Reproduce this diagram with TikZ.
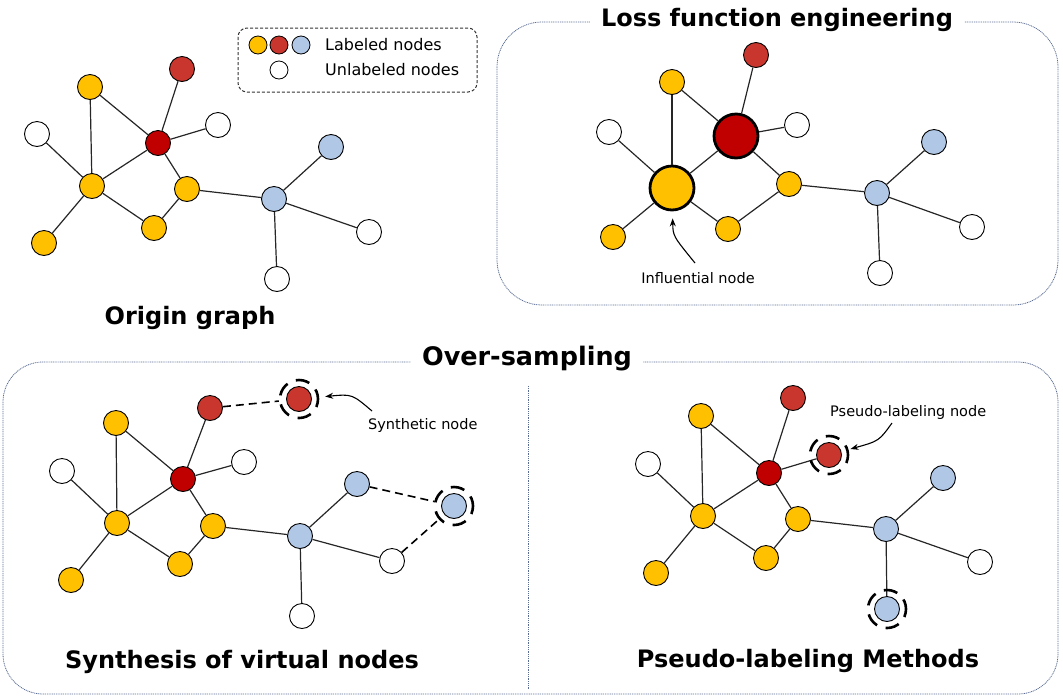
\documentclass[tikz,border=0pt]{standalone}
\usepackage{fontspec}
\setmainfont{DejaVu Sans}
\usetikzlibrary{arrows.meta}
\definecolor{ylw}{HTML}{FFC000}
\definecolor{rdo}{HTML}{C9362D}
\definecolor{rdc}{HTML}{C00000}
\definecolor{blu}{HTML}{B0C7E6}
\definecolor{framec}{HTML}{5B6C93}
\begin{document}
\begin{tikzpicture}[x=1pt,y=-1pt,
  gn/.style={circle,draw=black,line width=0.9pt,minimum size=25pt,inner sep=0pt},
  yn/.style={gn,fill=ylw},
  ro/.style={gn,fill=rdo},
  rc/.style={gn,fill=rdc},
  bn/.style={gn,fill=blu},
  wn/.style={gn,fill=white},
  big/.style={minimum size=44pt,line width=2.8pt},
  lg/.style={circle,draw=black,line width=0.8pt,minimum size=18pt,inner sep=0pt},
  ring/.style={circle,draw=black,line width=2.6pt,dash pattern=on 14pt off 9pt,dash phase=4pt,minimum size=38pt,inner sep=0pt},
  edge/.style={draw=black!85,line width=1.2pt},
  virt/.style={draw=black,line width=1.6pt,dash pattern=on 8pt off 5pt},
  pointer/.style={draw=black,line width=1.1pt,-{Stealth[length=8pt,width=6pt]}},
  frame/.style={draw=framec,line width=0.8pt,dash pattern=on 1pt off 0.8pt},
  title/.style={font=\fontsize{24}{28}\selectfont\bfseries,fill=white,inner xsep=11pt},
  caption/.style={font=\fontsize{24}{28}\selectfont\bfseries},
  note/.style={font=\fontsize{14.5}{16}\selectfont},
  legtext/.style={font=\fontsize{16}{18}\selectfont,anchor=west,inner sep=0pt}]
\useasboundingbox (0,0) rectangle (1063,697);

% ---------- frames ----------
\draw[frame,rounded corners=45pt] (497,22) rectangle (1058,305);
\draw[frame,rounded corners=40pt] (3,362) rectangle (1058,694);
\draw[frame] (528,386) -- (528,690);
\node[title] (tLoss) at (777,20) {Loss function engineering};
\node[title,font=\fontsize{25.5}{28}\selectfont\bfseries] (tOver) at (527,359) {Over-sampling};

% ---------- legend ----------
\draw[draw=black!80,line width=1pt,dash pattern=on 3pt off 2pt,rounded corners=9pt] (238,28) rectangle (477,92);
\node[lg,fill=ylw] (kY) at (258,45) {};
\node[lg,fill=rdo] (kR) at (279,45) {};
\node[lg,fill=blu] (kB) at (301,45) {};
\node[lg,fill=white] (kW) at (279,70) {};
\node[legtext] (kLab) at (325,45) {Labeled nodes};
\node[legtext] (kUnl) at (325,70) {Unlabeled nodes};

% ---------- original graph ----------
\node[yn] (oY1) at (90,87) {};
\node[ro] (oR1) at (182,69) {};
\node[wn] (oW1) at (37,134) {};
\node[rc] (oRc) at (158,143) {};
\node[wn] (oW2) at (218,125) {};
\node[bn] (oB1) at (331,147) {};
\node[yn] (oY2) at (92,186) {};
\node[yn] (oY3) at (187,189) {};
\node[bn] (oBh) at (274,199) {};
\node[yn] (oY4) at (154,228) {};
\node[yn] (oY5) at (44,243) {};
\node[wn] (oW3) at (369,232) {};
\node[wn] (oW4) at (277,279) {};
\foreach \a/\b in {Y1/Y2,Y1/Rc,R1/Rc,W1/Y2,Rc/W2,Rc/Y2,Rc/Y3,Y2/Y5,Y2/Y4,Y4/Y3,Y3/Bh,Bh/B1,Bh/W3,Bh/W4}
  \draw[edge] (o\a) -- (o\b);
\node[caption] (cOrig) at (190,318) {Origin graph};

% ---------- loss function engineering ----------
\node[ro] (lR1) at (756,55) {};
\node[yn] (lY1) at (672,82) {};
\node[wn] (lW1) at (609,132) {};
\node[rc,big] (lRc) at (736,136) {};
\node[wn] (lW2) at (797,125) {};
\node[bn] (lB1) at (934,142) {};
\node[yn,big] (lY2) at (672,188) {};
\node[yn] (lY3) at (789,184) {};
\node[bn] (lBh) at (877,193) {};
\node[yn] (lY5) at (613,237) {};
\node[yn] (lY4) at (728,229) {};
\node[wn] (lW3) at (972,227) {};
\node[wn] (lW4) at (880,273) {};
\foreach \a/\b in {Y1/Y2,Y1/Rc,R1/Rc,W1/Y2,Rc/W2,Rc/Y2,Rc/Y3,Y2/Y5,Y2/Y4,Y4/Y3,Y3/Bh,Bh/B1,Bh/W3,Bh/W4}
  \draw[edge] (l\a) -- (l\b);
\node[note] (lInf) at (698,278) {Influential node};
\coordinate (lInfA) at (695,263);
\draw[pointer,shorten >=7pt] (lInfA) .. controls (673,236) .. (lY2);

% ---------- synthesis of virtual nodes ----------
\node[ro] (sR1) at (210,408) {};
\node[ro] (sRv) at (299,399) {};
\node[ring] (sRvRing) at (299,399) {};
\node[yn] (sY1) at (116,423) {};
\node[wn] (sW1) at (62,471) {};
\node[rc] (sRc) at (183,479) {};
\node[wn] (sW2) at (244,462) {};
\node[bn] (sB1) at (357,484) {};
\node[yn] (sY2) at (117,523) {};
\node[yn] (sY3) at (213,526) {};
\node[bn] (sBh) at (300,536) {};
\node[bn] (sBv) at (454,506) {};
\node[ring] (sBvRing) at (454,506) {};
\node[yn] (sY4) at (180,564) {};
\node[yn] (sY5) at (71,580) {};
\node[wn] (sW3) at (392,561) {};
\node[wn] (sW4) at (302,616) {};
\foreach \a/\b in {Y1/Y2,Y1/Rc,R1/Rc,W1/Y2,Rc/W2,Rc/Y2,Rc/Y3,Y2/Y5,Y2/Y4,Y4/Y3,Y3/Bh,Bh/B1,Bh/W3,Bh/W4}
  \draw[edge] (s\a) -- (s\b);
\draw[virt] (sR1) -- (sRvRing);
\draw[virt] (sB1) -- (sBvRing);
\draw[virt] (sW3) -- (sBvRing);
\node[note,anchor=west,inner sep=0pt] (sSyn) at (368,425) {Synthetic node};
\coordinate (sSynA) at (372,411);
\draw[pointer,shorten >=6pt] (sSynA) .. controls (352,394) .. (sRvRing);
\node[caption] (cSyn) at (242,662) {Synthesis of virtual nodes};

% ---------- pseudo-labeling ----------
\node[ro] (pR1) at (793,398) {};
\node[yn] (pY1) at (701,416) {};
\node[wn] (pW1) at (648,464) {};
\node[rc] (pRc) at (769,473) {};
\node[ro] (pRv) at (829,455) {};
\node[bn] (pB1) at (943,478) {};
\node[yn] (pY2) at (703,516) {};
\node[yn] (pY3) at (798,519) {};
\node[bn] (pBh) at (886,529) {};
\node[yn] (pY4) at (766,558) {};
\node[wn] (pW3) at (980,562) {};
\node[yn] (pY5) at (656,573) {};
\node[bn] (pBv) at (887,609) {};
\foreach \a/\b in {Y1/Y2,Y1/Rc,R1/Rc,W1/Y2,Rc/Y2,Rc/Y3,Y2/Y5,Y2/Y4,Y4/Y3,Y3/Bh,Bh/B1,Bh/W3,Rc/Rv,Bh/Bv}
  \draw[edge] (p\a) -- (p\b);
\node[ring] (pRvRing) at (829,455) {};
\node[ring] (pBvRing) at (887,609) {};
\node[note,anchor=west,inner sep=0pt] (pPse) at (830,412) {Pseudo-labeling node};
\coordinate (pPseA) at (892,423);
\draw[pointer,shorten >=2pt] (pPseA) .. controls (879,441) .. (pRvRing);
\node[caption] (cPse) at (808,661) {Pseudo-labeling Methods};
\end{tikzpicture}
\end{document}
